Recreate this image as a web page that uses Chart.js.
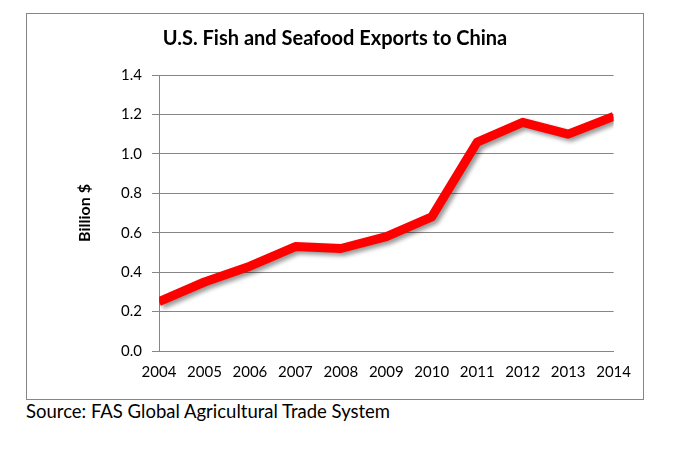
<!DOCTYPE html>
<html>
<head>
    <title>U.S. Fish and Seafood Exports to China</title>
    <script src="https://cdn.jsdelivr.net/npm/chart.js"></script>
    <style>
      body { margin: 0; background: #fff; width: 700px; height: 457px; position: relative; font-family: Lato, sans-serif; }
      #frame { position: absolute; left: 26px; top: 13px; width: 616px; height: 385px; border: 1px solid #868686; }
      #source { position: absolute; left: 26px; top: 400px; font-size: 18.5px; color: #000; }
    </style>
</head>
<body>
    <div id="frame"><canvas id="fishChart" width="616" height="385"></canvas></div>
    <div id="source">Source: FAS Global Agricultural Trade System</div>

    <script>
    const years = ['2004', '2005', '2006', '2007', '2008', '2009', '2010', '2011', '2012', '2013', '2014'];
    const exports = [0.25, 0.35, 0.43, 0.53, 0.52, 0.58, 0.68, 1.06, 1.16, 1.10, 1.19];
    const yTicks = [0.0, 0.2, 0.4, 0.6, 0.8, 1.0, 1.2, 1.4];

    // soft drop shadow under the line, like the Excel original
    const lineShadow = {
      id: 'lineShadow',
      beforeDatasetsDraw(chart) {
        const ctx = chart.ctx;
        ctx.save();
        ctx.shadowColor = 'rgba(0,0,0,0.4)';
        ctx.shadowBlur = 4;
        ctx.shadowOffsetX = 3;
        ctx.shadowOffsetY = 3;
      },
      afterDatasetsDraw(chart) {
        chart.ctx.restore();
      }
    };

    new Chart(document.getElementById('fishChart'), {
      type: 'line',
      data: {
        labels: years,
        datasets: [{
          label: 'Exports',
          data: exports,
          borderColor: '#ff0000',
          borderWidth: 9,
          borderJoinStyle: 'round',
          tension: 0,
          pointRadius: 0,
          fill: false,
          clip: 0
        }]
      },
      options: {
        responsive: false,
        animation: false,
        layout: { padding: { left: 0, right: 0, top: 0, bottom: 0 } },
        plugins: {
          legend: { display: false },
          tooltip: { enabled: false },
          title: {
            display: true,
            text: 'U.S. Fish and Seafood Exports to China',
            color: '#000',
            font: { family: 'Lato', size: 20, weight: 'bold', lineHeight: 1.2 },
            padding: { top: 13, bottom: 24 }
          }
        },
        scales: {
          x: {
            offset: false,
            grid: { display: false, drawTicks: false },
            border: { display: true, color: '#868686', width: 1 },
            ticks: { color: '#000', font: { family: 'Lato', size: 15 }, padding: 12, maxRotation: 0, autoSkip: false },
            afterFit(scale) { scale.height = 48; }
          },
          y: {
            min: 0,
            max: 1.4,
            afterBuildTicks(scale) { scale.ticks = yTicks.map(v => ({ value: v })); },
            grid: { color: '#868686', lineWidth: 1, tickLength: 7 },
            border: { display: true, color: '#868686', width: 1 },
            ticks: {
              color: '#000',
              font: { family: 'Lato', size: 15 },
              padding: 10,
              callback: v => v.toFixed(1)
            },
            title: {
              display: true,
              text: 'Billion $',
              color: '#000',
              font: { family: 'Lato', size: 16, weight: 'bold', lineHeight: 1.2 },
              padding: { top: 48, bottom: 0 }
            },
            afterFit(scale) { scale.width = 132; }
          }
        }
      },
      plugins: [lineShadow]
    });
    </script>
</body>
</html>
